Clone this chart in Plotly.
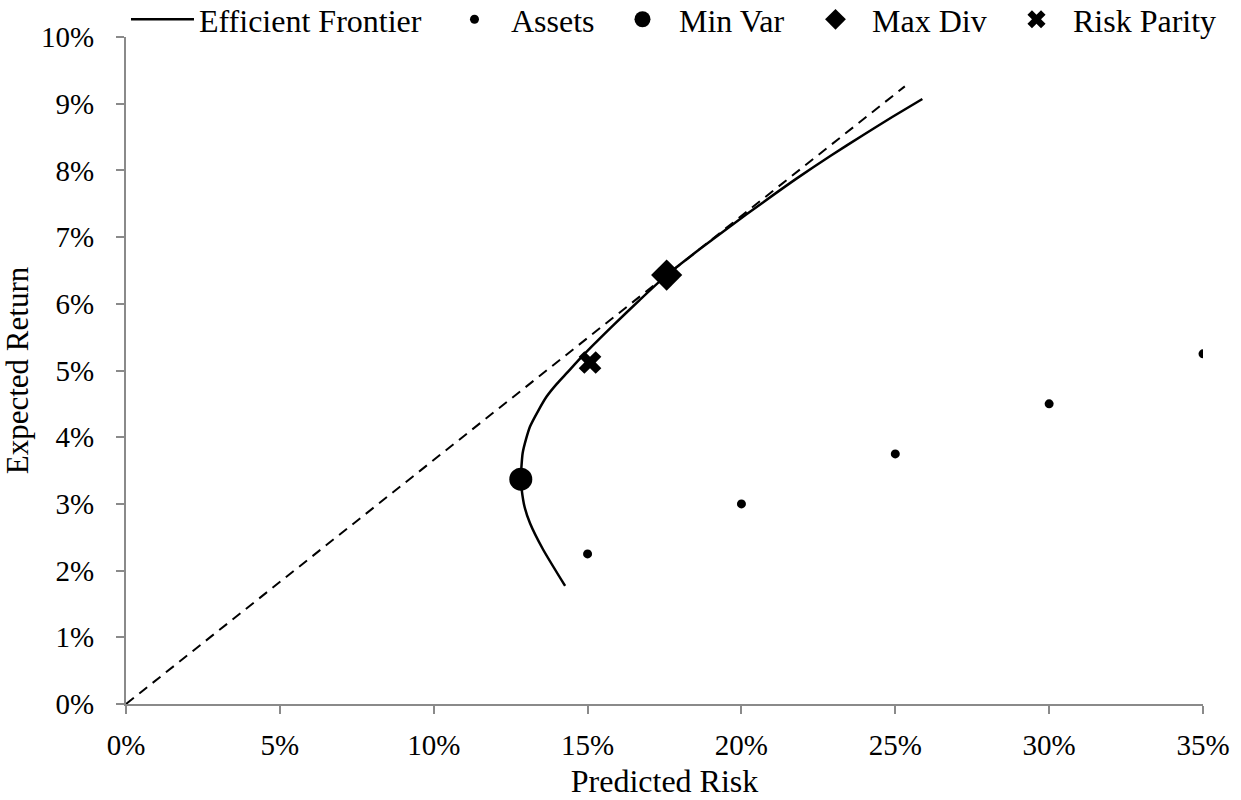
import plotly.graph_objects as go

# Efficient frontier (predicted risk, expected return)
frontier_risk = [0.1427, 0.1355, 0.1313, 0.1295, 0.1286, 0.1283, 0.1285, 0.1289, 0.1300, 0.1313,
                 0.1340, 0.1367, 0.1400, 0.1432, 0.1486, 0.1584, 0.1670, 0.1757, 0.1865,
                 0.1963, 0.2070, 0.2180, 0.2290, 0.2396, 0.2490, 0.2588]
frontier_ret = [0.0177, 0.0232, 0.0271, 0.0296, 0.0321, 0.0337, 0.0355, 0.0376, 0.0397, 0.0416,
                0.0440, 0.0461, 0.0480, 0.0496, 0.0523, 0.0568, 0.0606, 0.0643, 0.0682,
                0.0716, 0.0752, 0.0788, 0.0822, 0.0853, 0.0880, 0.0907]

# Tangent line from the origin through Max Div
tangent_risk = [0.0, 0.2531]
tangent_ret = [0.0, 0.0926]

# Individual assets
asset_risk = [0.15, 0.20, 0.25, 0.30, 0.35]
asset_ret = [0.0225, 0.0300, 0.0375, 0.0450, 0.0525]

# Portfolios
minvar_risk, minvar_ret = [0.1283], [0.0337]
maxdiv_risk, maxdiv_ret = [0.1757], [0.0643]
rp_risk, rp_ret = [0.1508], [0.0512]

x_ticks = [0, 0.05, 0.10, 0.15, 0.20, 0.25, 0.30, 0.35]
x_labels = ["0%", "5%", "10%", "15%", "20%", "25%", "30%", "35%"]
y_ticks = [i / 100 for i in range(11)]
y_labels = [f"{i}%" for i in range(11)]

FONT = "Liberation Serif, Times New Roman, serif"
AXIS_GREY = "#8a8a8a"

fig = go.Figure()

fig.add_trace(go.Scatter(
    x=tangent_risk, y=tangent_ret, mode="lines",
    line=dict(color="black", width=2, dash="10px,7px"),
    showlegend=False, hoverinfo="skip"))

fig.add_trace(go.Scatter(
    x=frontier_risk, y=frontier_ret, mode="lines", name="Efficient Frontier",
    line=dict(color="black", width=2.5, shape="spline", smoothing=0.6),
    legendwidth=234))

fig.add_trace(go.Scatter(
    x=asset_risk, y=asset_ret, mode="markers", name="Assets",
    marker=dict(color="black", size=9, symbol="circle"),
    legendwidth=90))

fig.add_trace(go.Scatter(
    x=minvar_risk, y=minvar_ret, mode="markers", name="Min Var",
    marker=dict(color="black", size=23, symbol="circle"),
    legendwidth=115))

fig.add_trace(go.Scatter(
    x=maxdiv_risk, y=maxdiv_ret, mode="markers", name="Max Div",
    marker=dict(color="black", size=24, symbol="diamond"),
    legendwidth=123))

fig.add_trace(go.Scatter(
    x=rp_risk, y=rp_ret, mode="markers", name="Risk Parity",
    marker=dict(color="black", size=20, symbol="x", line=dict(width=0)),
    legendwidth=146))

axis_common = dict(
    showgrid=False, zeroline=False, showline=True, linecolor=AXIS_GREY, linewidth=2,
    ticks="outside", ticklen=8, tickwidth=2, tickcolor=AXIS_GREY,
    tickfont=dict(family=FONT, size=29, color="black"),
)

fig.update_xaxes(
    range=[0, 0.35], tickvals=x_ticks, ticktext=x_labels,
    title=dict(text="Predicted Risk", font=dict(family=FONT, size=32, color="black"), standoff=10),
    ticklabelstandoff=6,
    **axis_common)
fig.update_yaxes(
    range=[0, 0.10], tickvals=y_ticks, ticktext=y_labels,
    title=dict(text="Expected Return", font=dict(family=FONT, size=31, color="black"), standoff=9),
    ticklabelstandoff=16,
    **axis_common)

fig.update_layout(
    width=1241, height=800,
    margin=dict(l=126, r=38, t=37, b=96, autoexpand=False),
    paper_bgcolor="white", plot_bgcolor="white",
    font=dict(family=FONT, color="black"),
    showlegend=True,
    legend=dict(
        orientation="h", x=-0.00001, xanchor="left", y=1.0675, yref="paper", yanchor="top",
        font=dict(family=FONT, size=32, color="black"),
        itemwidth=63, bgcolor="rgba(0,0,0,0)", borderwidth=0,
        traceorder="normal", itemclick=False,
    ),
)

fig.write_html("out.html")
